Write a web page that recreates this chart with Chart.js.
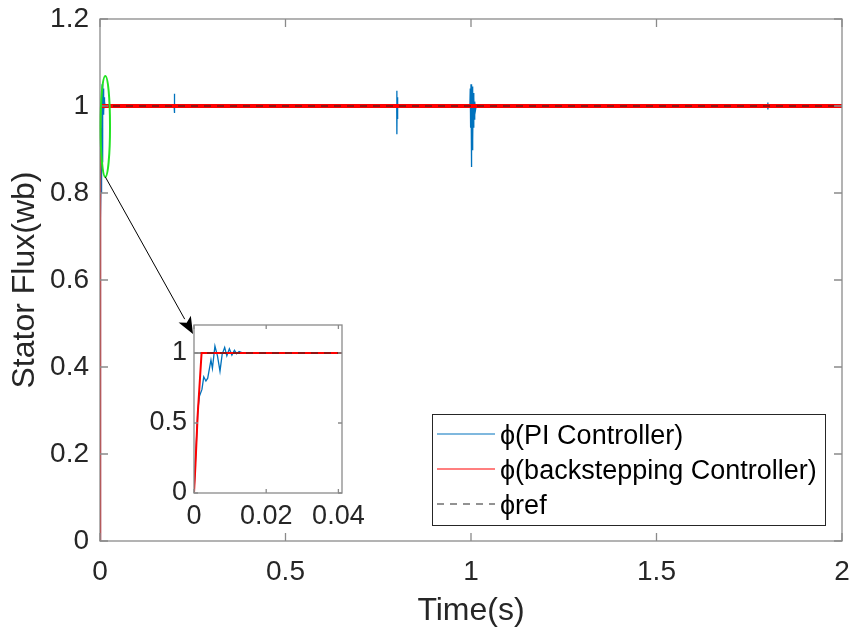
<!DOCTYPE html>
<html>
<head>
<meta charset="utf-8">
<script src="https://cdn.jsdelivr.net/npm/chart.js@4.4.1/dist/chart.umd.min.js"></script>
<style>
  html, body { margin: 0; padding: 0; background: #fff; }
  #wrap { position: relative; width: 851px; height: 634px; }
  #main { position: absolute; left: 0; top: 0; }
  #inset { position: absolute; left: 140px; top: 315px; }
</style>
</head>
<body>
<div id="wrap">
  <canvas id="main" width="851" height="634"></canvas>
  <canvas id="inset" width="230" height="225"></canvas>
</div>
<script>
// ---- tick labels ----
const timeTicks = [0, 0.5, 1, 1.5, 2];
const fluxTicks = [0, 0.2, 0.4, 0.6, 0.8, 1, 1.2];
const insetTimeTicks = [0, 0.02, 0.04];
const insetFluxTicks = [0, 0.5, 1];

// ---- stator flux, PI controller (s, Wb) ----
const piTime = [
  0, 0.00036, 0.0011, 0.0015, 0.0022, 0.0027, 0.0033, 0.0038, 0.0047, 0.0051,
  0.0058, 0.0065, 0.0072, 0.0078, 0.0085, 0.0091, 0.0098, 0.0105, 0.0112, 0.0118,
  0.0125, 0.0136,
  0.1998, 0.2, 0.2003, 0.2007, 0.2012, 0.202,
  0.7998, 0.8, 0.8004, 0.8009, 0.8015, 0.8022, 0.803,
  0.997, 0.998, 0.999, 1.0, 1.001, 1.002, 1.003, 1.004, 1.005, 1.006, 1.007, 1.008,
  1.009, 1.010, 1.012, 1.014,
  1.7998, 1.8, 1.8004, 1.801,
  2
];
const piFlux = [
  0, 0.21, 0.6, 0.69, 0.74, 0.83, 0.80, 0.82, 0.95, 0.89,
  1.05, 0.98, 0.87, 0.99, 1.04, 0.98, 1.03, 0.985, 1.02, 0.995,
  1.01, 1.0,
  1.0, 1.028, 0.984, 1.012, 0.995, 1.0,
  1.0, 1.035, 0.935, 1.02, 0.97, 1.005, 1.0,
  1.0, 1.04, 0.95, 1.05, 0.86, 1.03, 0.9, 1.045, 0.92, 1.03, 0.95, 1.02,
  0.97, 1.01, 0.99, 1.0,
  1.0, 1.008, 0.992, 1.0,
  1.0
];

// ---- stator flux, backstepping controller ----
const bsTime = [0, 0.0004, 0.001, 0.0021, 2];
const bsFlux = [0, 0.2, 0.55, 1.0, 1.0];

// ---- flux reference ----
const refTime = [0, 2];
const refFlux = [1, 1];

const seriesNames = ['\u03D5(PI Controller)', '\u03D5(backstepping Controller)', '\u03D5ref'];

const FONT = '"Liberation Sans", Arial, Helvetica, sans-serif';
const TEXT = '#262626';
const AXIS = '#8a8a8a';
const BLUE = '#0072BD';
const RED = '#FF0000';

const pts = (xs, ys) => xs.map((x, i) => ({ x, y: ys[i] }));

// box around the axes with inward tick marks on all four sides
const framePlugin = {
  id: 'frame',
  afterDatasetsDraw(chart, args, opts) {
    const { ctx, chartArea: a, scales: { x, y } } = chart;
    const L = opts.tickLength;
    ctx.save();
    ctx.strokeStyle = AXIS;
    ctx.lineWidth = opts.lineWidth;
    ctx.beginPath();
    x.ticks.forEach(t => {
      const px = x.getPixelForValue(t.value);
      ctx.moveTo(px, a.bottom); ctx.lineTo(px, a.bottom - L);
      ctx.moveTo(px, a.top); ctx.lineTo(px, a.top + L);
    });
    y.ticks.forEach(t => {
      const py = y.getPixelForValue(t.value);
      ctx.moveTo(a.left, py); ctx.lineTo(a.left + L, py);
      ctx.moveTo(a.right, py); ctx.lineTo(a.right - L, py);
    });
    ctx.stroke();
    ctx.strokeRect(a.left, a.top, a.right - a.left, a.bottom - a.top);
    ctx.restore();
  }
};

// the steady-state part of the backstepping trace is drawn heavier than its rise
function seriesSets(redWidth, riseWidth) {
  return [
    { label: seriesNames[0], data: pts(piTime, piFlux), borderColor: BLUE, borderWidth: 1.3, order: 3 },
    {
      label: seriesNames[1], data: pts(bsTime, bsFlux), borderColor: RED, borderWidth: redWidth, order: 2,
      segment: { borderWidth: c => (Math.abs(c.p1.parsed.y - c.p0.parsed.y) > 0.05 ? riseWidth : redWidth) }
    },
    { label: seriesNames[2], data: pts(refTime, refFlux), borderColor: TEXT, borderWidth: 1, borderDash: [7, 6], order: 1 }
  ];
}

// fixed-size axis; label overhang is ignored so the plot box keeps its place
function axis(min, max, ticks, opt) {
  return {
    type: 'linear', min, max,
    afterBuildTicks: s => { s.ticks = ticks.map(v => ({ value: v })); },
    afterFit: s => {
      opt.fit(s);
      s.paddingLeft = 0; s.paddingRight = 0; s.paddingTop = 0; s.paddingBottom = 0;
    },
    grid: { display: false, drawTicks: false },
    border: { display: false },
    ticks: {
      color: TEXT, padding: opt.pad,
      font: { family: FONT, size: opt.size },
      maxRotation: 0, autoSkip: false,
      callback: v => String(v)
    },
    title: opt.title || { display: false }
  };
}

const commonOpts = {
  responsive: false,
  animation: false,
  devicePixelRatio: 1,
  elements: { point: { radius: 0 }, line: { tension: 0 } },
  plugins: { legend: { display: false }, tooltip: { enabled: false } }
};

// ---- inset: start-up transient ----
const insetChart = new Chart(document.getElementById('inset'), {
  type: 'line',
  data: { datasets: seriesSets(2, 2) },
  options: Object.assign({}, commonOpts, {
    layout: { padding: { left: 0, top: 10, right: 28, bottom: 0 } },
    scales: {
      x: axis(0, 0.041, insetTimeTicks, { pad: 7, size: 27, fit: s => { s.height = 47; } }),
      y: axis(0, 1.2, insetFluxTicks, { pad: 7, size: 27, fit: s => { s.width = 54; } })
    },
    plugins: Object.assign({}, commonOpts.plugins, { frame: { tickLength: 4, lineWidth: 1.3 } })
  }),
  plugins: [framePlugin]
});

// zoom marker, arrow and legend on the main axes
const annotatePlugin = {
  id: 'annotate',
  afterDraw(chart) {
    const { ctx, scales: { x, y } } = chart;
    ctx.save();

    // green ellipse around the start-up transient
    const cx = x.getPixelForValue(0.0143), cy = y.getPixelForValue(0.953);
    const rx = x.getPixelForValue(0.0127) - x.getPixelForValue(0);
    const ry = y.getPixelForValue(0) - y.getPixelForValue(0.116);
    ctx.strokeStyle = '#22e322';
    ctx.lineWidth = 2;
    ctx.beginPath();
    ctx.ellipse(cx, cy, rx, ry, 0, 0, Math.PI * 2);
    ctx.stroke();

    // arrow from the ellipse to the inset axes
    const insetCanvas = insetChart.canvas;
    const ia = insetChart.chartArea;
    const x0 = cx, y0 = cy + ry;
    const x1 = insetCanvas.offsetLeft + ia.left - 1, y1 = insetCanvas.offsetTop + ia.top + 9;
    const ang = Math.atan2(y1 - y0, x1 - x0);
    const hl = 17, hw = 7;
    const bx = x1 - hl * Math.cos(ang), by = y1 - hl * Math.sin(ang);
    ctx.strokeStyle = '#000';
    ctx.lineWidth = 1;
    ctx.beginPath();
    ctx.moveTo(x0, y0); ctx.lineTo(bx, by);
    ctx.stroke();
    ctx.fillStyle = '#000';
    ctx.beginPath();
    ctx.moveTo(x1, y1);
    ctx.lineTo(bx + hw * Math.sin(ang), by - hw * Math.cos(ang));
    ctx.lineTo(bx + 4 * Math.cos(ang), by + 4 * Math.sin(ang));
    ctx.lineTo(bx - hw * Math.sin(ang), by + hw * Math.cos(ang));
    ctx.closePath();
    ctx.fill();

    // legend
    const lx = 432, ly = 414, lw = 393, lh = 111;
    ctx.fillStyle = '#fff';
    ctx.fillRect(lx, ly, lw, lh);
    ctx.strokeStyle = TEXT;
    ctx.lineWidth = 1;
    ctx.strokeRect(lx + 0.5, ly + 0.5, lw, lh);
    const rows = [437, 472, 507];
    chart.data.datasets.forEach((ds, i) => {
      ctx.strokeStyle = ds.borderColor;
      ctx.lineWidth = 1.2;
      ctx.setLineDash(ds.borderDash || []);
      ctx.beginPath();
      ctx.moveTo(lx + 5, rows[i] - 3);
      ctx.lineTo(lx + 63, rows[i] - 3);
      ctx.stroke();
      ctx.setLineDash([]);
      ctx.fillStyle = '#000';
      ctx.font = '27px ' + FONT;
      ctx.textBaseline = 'middle';
      ctx.textAlign = 'left';
      ctx.fillText(ds.label, lx + 68, rows[i]);
    });
    ctx.restore();
  }
};

// ---- main axes ----
new Chart(document.getElementById('main'), {
  type: 'line',
  data: { datasets: seriesSets(4, 1.5) },
  options: Object.assign({}, commonOpts, {
    layout: { padding: { left: 0, top: 19, right: 9, bottom: 0 } },
    scales: {
      x: axis(0, 2, timeTicks, {
        pad: 14, size: 28, fit: s => { s.height = 93; },
        title: { display: true, text: 'Time(s)', color: TEXT, font: { family: FONT, size: 32 }, padding: { top: 0, bottom: 4 } }
      }),
      y: axis(0, 1.2, fluxTicks, {
        pad: 11, size: 28, fit: s => { s.width = 100; },
        title: { display: true, text: 'Stator Flux(wb)', color: TEXT, font: { family: FONT, size: 32 }, padding: { top: 6, bottom: 0 } }
      })
    },
    plugins: Object.assign({}, commonOpts.plugins, { frame: { tickLength: 8, lineWidth: 1.3 } })
  }),
  plugins: [framePlugin, annotatePlugin]
});
</script>
</body>
</html>
